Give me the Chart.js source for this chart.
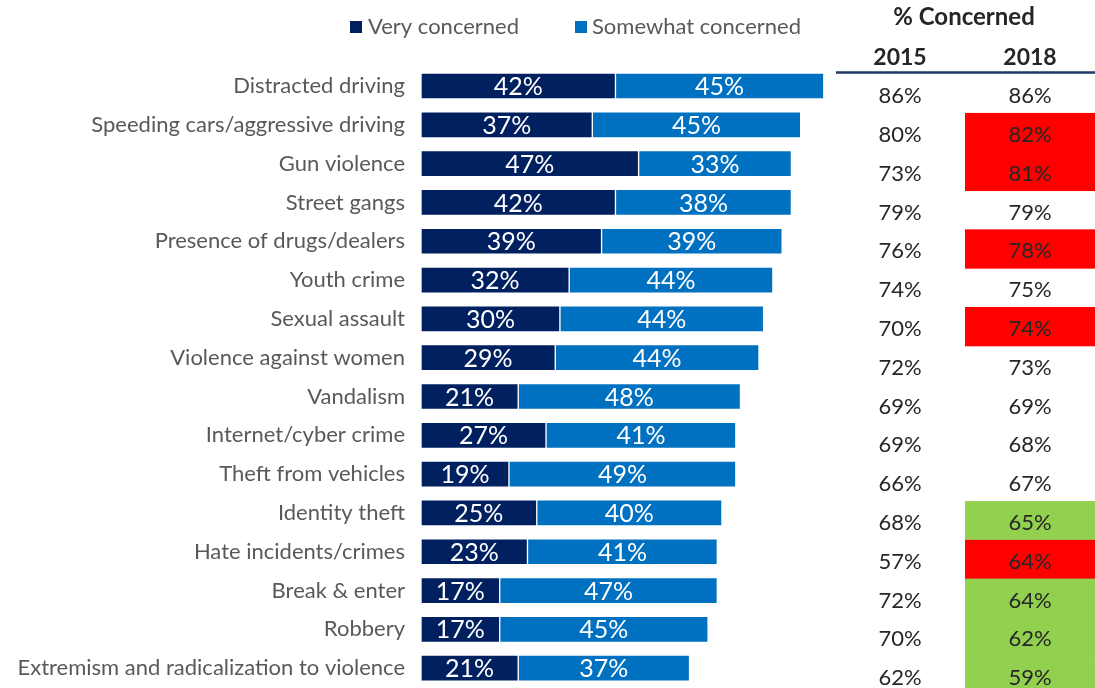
<!DOCTYPE html>
<html>
<head>
<meta charset="utf-8">
<script src="https://cdn.jsdelivr.net/npm/chart.js@4/dist/chart.umd.min.js"></script>
<style>
  html, body { margin: 0; padding: 0; background: #ffffff; }
  #wrap { width: 1095px; height: 688px; position: relative; }
</style>
</head>
<body>
<div id="wrap"><canvas id="c" width="1095" height="688"></canvas></div>
<script>
const categories = [
  "Distracted driving",
  "Speeding cars/aggressive driving",
  "Gun violence",
  "Street gangs",
  "Presence of drugs/dealers",
  "Youth crime",
  "Sexual assault",
  "Violence against women",
  "Vandalism",
  "Internet/cyber crime",
  "Theft from vehicles",
  "Identity theft",
  "Hate incidents/crimes",
  "Break & enter",
  "Robbery",
  "Extremism and radicalization to violence"
];
const veryConcerned     = [42, 37, 47, 42, 39, 32, 30, 29, 21, 27, 19, 25, 23, 17, 17, 21];
const somewhatConcerned = [45, 45, 33, 38, 39, 44, 44, 44, 48, 41, 49, 40, 41, 47, 45, 37];
const concerned2015     = [86, 80, 73, 79, 76, 74, 70, 72, 69, 69, 66, 68, 57, 72, 70, 62];
const concerned2018     = [86, 82, 81, 79, 78, 75, 74, 73, 69, 68, 67, 65, 64, 64, 62, 59];
// 'up' = significant increase (red), 'down' = significant decrease (green), '' = none
const change2018        = ["", "up", "up", "", "up", "", "up", "", "", "", "", "down", "up", "down", "down", "down"];
const tableTitle = "% Concerned";
const yearLabels = ["2015", "2018"];

const FONT = "Lato, 'Open Sans', sans-serif";
const COLOR_VERY = "#002060";
const COLOR_SOME = "#0070C0";
const COLOR_UP = "#FF0000";
const COLOR_DOWN = "#92D050";

const overlay = {
  id: "overlay",
  afterDatasetsDraw(chart) {
    const ctx = chart.ctx;
    ctx.save();
    ctx.fillStyle = "#ffffff";
    ctx.font = "25px " + FONT;
    ctx.textAlign = "center";
    ctx.textBaseline = "middle";
    chart.data.datasets.forEach((ds, di) => {
      const meta = chart.getDatasetMeta(di);
      meta.data.forEach((el, i) => {
        const cx = (el.x + el.base) / 2;
        ctx.fillText(ds.data[i] + "%", cx, el.y + 1);
      });
    });
    ctx.restore();
  },
  afterDraw(chart) {
    const ctx = chart.ctx;
    const y = chart.scales.y;
    ctx.save();
    // legend
    const legendPos = [[350, 368], [575, 592]];
    ctx.font = "22px " + FONT;
    ctx.textBaseline = "middle";
    ctx.textAlign = "left";
    chart.data.datasets.forEach((ds, di) => {
      const [sx, tx] = legendPos[di];
      ctx.fillStyle = ds.backgroundColor;
      ctx.fillRect(sx, 21, 12, 12);
      ctx.fillStyle = "#595959";
      ctx.fillText(ds.label, tx, 27);
    });

    // table header
    const col1 = 900, col2 = 1030, cellLeft = 965, cellRight = 1095;
    ctx.fillStyle = "#262626";
    ctx.textAlign = "center";
    ctx.font = "bold 24px " + FONT;
    ctx.fillText(tableTitle, 964, 17);
    ctx.font = "bold 23px " + FONT;
    ctx.fillText(yearLabels[0], col1, 58);
    ctx.fillText(yearLabels[1], col2, 58);
    ctx.strokeStyle = "#1F3864";
    ctx.lineWidth = 2.5;
    ctx.beginPath();
    ctx.moveTo(836, 72.5);
    ctx.lineTo(1095, 72.5);
    ctx.stroke();

    // table rows, aligned with category scale
    const step = categories.length > 1 ? (y.getPixelForValue(1) - y.getPixelForValue(0)) : 39;
    ctx.font = "22px " + FONT;
    categories.forEach((c, i) => {
      const py = y.getPixelForValue(i);
      const flag = change2018[i];
      if (flag) {
        ctx.fillStyle = flag === "up" ? COLOR_UP : COLOR_DOWN;
        const top = py + 7.5 - step / 2;
        ctx.fillRect(cellLeft, top, cellRight - cellLeft, step + 0.5);
      }
      ctx.fillStyle = "#262626";
      ctx.fillText(concerned2015[i] + "%", col1, py + 10);
      ctx.fillText(concerned2018[i] + "%", col2, py + 10);
    });
    ctx.restore();
  }
};

new Chart(document.getElementById("c"), {
  type: "bar",
  data: {
    labels: categories,
    datasets: [
      { label: "Very concerned", data: veryConcerned, backgroundColor: COLOR_VERY,
        borderColor: "#ffffff", borderWidth: 1, borderSkipped: false, barThickness: 26 },
      { label: "Somewhat concerned", data: somewhatConcerned, backgroundColor: COLOR_SOME,
        borderColor: "#ffffff", borderWidth: 1, borderSkipped: false, barThickness: 26 }
    ]
  },
  options: {
    indexAxis: "y",
    responsive: false,
    animation: false,
    devicePixelRatio: 1,
    layout: { padding: { left: 0, right: 211, top: 66.6, bottom: 0.4 } },
    plugins: { legend: { display: false }, tooltip: { enabled: false } },
    scales: {
      x: { stacked: true, min: 0, max: 100, display: false },
      y: {
        stacked: true,
        grid: { display: false, drawTicks: false },
        border: { display: false },
        ticks: { color: "#595959", font: { family: FONT, size: 22 }, padding: 16, autoSkip: false },
        afterFit(scale) {
          scale.width = 421;
          scale.paddingTop = 0;
          scale.paddingBottom = 0;
        }
      }
    }
  },
  plugins: [overlay]
});
</script>
</body>
</html>
